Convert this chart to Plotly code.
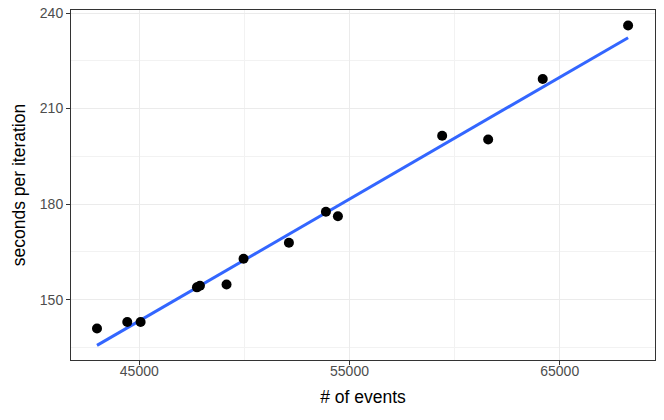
import numpy as np
import plotly.graph_objects as go

events = [42989, 44429, 45063, 47743, 47886, 49151, 49960, 52118, 53878, 54448, 59408, 61596, 64191, 68252]
seconds = [141.0, 143.0, 143.0, 153.9, 154.4, 154.8, 162.9, 167.9, 177.6, 176.2, 201.5, 200.3, 219.3, 236.1]
x_ticks = [45000, 55000, 65000]
y_ticks = [150, 180, 210, 240]

xa = np.array(events, dtype=float)
ya = np.array(seconds, dtype=float)
slope, intercept = np.polyfit(xa, ya, 1)
fit_x = np.linspace(xa.min(), xa.max(), 80)
fit_y = slope * fit_x + intercept

fig = go.Figure()
fig.add_trace(go.Scatter(x=fit_x, y=fit_y, mode="lines",
                         line=dict(color="#3366FF", width=3), hoverinfo="skip"))
fig.add_trace(go.Scatter(x=events, y=seconds, mode="markers",
                         marker=dict(color="black", size=10)))

axis_common = dict(
    automargin=False,
    showline=True, linecolor="#333333", linewidth=1, mirror=True,
    ticks="outside", ticklen=4, tickcolor="#333333", tickwidth=1,
    gridcolor="#EBEBEB", gridwidth=1.1, zeroline=False,
    tickfont=dict(family="Liberation Sans, Arial, sans-serif", size=14, color="#4D4D4D"),
    title_font=dict(family="Liberation Sans, Arial, sans-serif", size=17.5, color="black"),
)

fig.update_layout(
    width=664, height=420,
    margin=dict(l=71, r=9, t=10, b=60),
    paper_bgcolor="white", plot_bgcolor="white",
    showlegend=False,
    xaxis=dict(axis_common, range=[41752, 69532], tickvals=x_ticks,
               ticktext=[str(v) for v in x_ticks], ticklabelstandoff=-6,
               minor=dict(tickvals=[50000, 60000], showgrid=True, gridcolor="#F2F2F2", gridwidth=0.6, ticks=""),
               title=dict(text="# of events", standoff=12)),
    yaxis=dict(axis_common, range=[131.1, 240.94], tickvals=y_ticks,
               ticktext=[str(v) for v in y_ticks],
               minor=dict(tickvals=[135, 165, 195, 225], showgrid=True, gridcolor="#F2F2F2", gridwidth=0.6, ticks=""),
               title=dict(text="seconds per iteration", standoff=9)),
)

fig.write_html("out.html", config={"displayModeBar": False},
               post_script="document.body.style.margin='0';")
